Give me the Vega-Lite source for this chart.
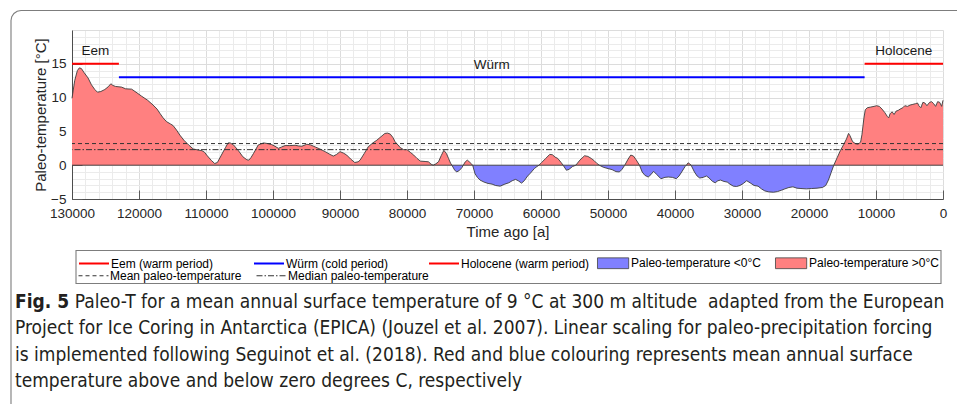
{
  "$schema": "https://vega.github.io/schema/vega-lite/v6.json",
  "width": 871,
  "height": 169,
  "autosize": {"type": "none"},
  "padding": {"left": 72, "top": 30, "right": 14, "bottom": 205},
  "background": "white",
  "config": {
    "view": {"stroke": null},
    "font": "Liberation Sans",
    "axis": {"labelFont": "Liberation Sans", "titleFont": "Liberation Sans"},
    "legend": {"labelFont": "Liberation Sans", "labelFontSize": 12, "labelColor": "#000000", "labelLimit": 400, "padding": 0, "symbolOpacity": 1}
  },
  "title": {
    "text": "Fig. 5",
    "subtitle": [
      "\u200b\u00a0\u00a0\u00a0\u00a0\u00a0\u00a0\u00a0\u00a0\u00a0\u00a0\u00a0Paleo-T for a mean annual surface temperature of 9 °C at 300 m altitude \u00a0adapted from the European",
      "Project for Ice Coring in Antarctica (EPICA) (Jouzel et al. 2007). Linear scaling for paleo-precipitation forcing",
      "is implemented following Seguinot et al. (2018). Red and blue colouring represents mean annual surface",
      "temperature above and below zero degrees C, respectively"
    ],
    "orient": "bottom",
    "anchor": "start",
    "frame": "group",
    "offset": -130,
    "dx": -57,
    "font": "Liberation Sans Narrow, DejaVu Sans Condensed, sans-serif",
    "fontSize": 19,
    "fontWeight": "bold",
    "color": "#231f20",
    "subtitleFont": "Liberation Sans Narrow, DejaVu Sans Condensed, sans-serif",
    "subtitleFontSize": 19,
    "subtitleColor": "#231f20",
    "subtitleLineHeight": 26.3,
    "subtitlePadding": -19
  },
  "datasets": {
    "paleo": [
      {"age": 130000, "temp": 9.9}, {"age": 129600, "temp": 12.5}, {"age": 129200, "temp": 14.0},
      {"age": 128900, "temp": 14.4}, {"age": 128600, "temp": 14.3}, {"age": 128200, "temp": 13.7},
      {"age": 127600, "temp": 12.9}, {"age": 127100, "temp": 11.9}, {"age": 126600, "temp": 11.2},
      {"age": 126200, "temp": 10.8}, {"age": 125700, "temp": 10.9}, {"age": 125100, "temp": 11.2},
      {"age": 124600, "temp": 11.6}, {"age": 124200, "temp": 12.05}, {"age": 123900, "temp": 11.8},
      {"age": 123500, "temp": 11.65}, {"age": 122600, "temp": 11.55}, {"age": 122000, "temp": 11.3},
      {"age": 121100, "temp": 11.25}, {"age": 120300, "temp": 10.7}, {"age": 119600, "temp": 10.2},
      {"age": 118700, "temp": 9.6}, {"age": 117900, "temp": 8.9}, {"age": 117300, "temp": 8.3},
      {"age": 116900, "temp": 7.7}, {"age": 116400, "temp": 7.0}, {"age": 115900, "temp": 6.45},
      {"age": 115300, "temp": 6.1}, {"age": 114900, "temp": 5.85}, {"age": 114400, "temp": 5.2},
      {"age": 113900, "temp": 4.45}, {"age": 113300, "temp": 3.7}, {"age": 112600, "temp": 3.0},
      {"age": 111900, "temp": 2.4}, {"age": 111200, "temp": 2.25}, {"age": 110600, "temp": 2.15},
      {"age": 110200, "temp": 1.9}, {"age": 109900, "temp": 1.5}, {"age": 109200, "temp": 0.7},
      {"age": 108700, "temp": 0.25}, {"age": 108300, "temp": 0.4}, {"age": 107700, "temp": 1.5},
      {"age": 107100, "temp": 2.6}, {"age": 106700, "temp": 3.3}, {"age": 106400, "temp": 3.3},
      {"age": 105900, "temp": 3.0}, {"age": 105200, "temp": 2.2}, {"age": 104500, "temp": 1.25},
      {"age": 103900, "temp": 0.8}, {"age": 103600, "temp": 0.75}, {"age": 103300, "temp": 1.1},
      {"age": 102900, "temp": 1.75}, {"age": 102200, "temp": 3.0}, {"age": 101400, "temp": 3.3},
      {"age": 100800, "temp": 3.2}, {"age": 100200, "temp": 3.05}, {"age": 99700, "temp": 2.8},
      {"age": 99200, "temp": 2.5}, {"age": 98700, "temp": 2.7}, {"age": 98200, "temp": 2.9},
      {"age": 97500, "temp": 2.9}, {"age": 96700, "temp": 2.95}, {"age": 96200, "temp": 2.85},
      {"age": 95700, "temp": 2.8}, {"age": 94950, "temp": 3.1}, {"age": 94400, "temp": 3.0},
      {"age": 93700, "temp": 2.7}, {"age": 93000, "temp": 2.4}, {"age": 92200, "temp": 2.0},
      {"age": 91500, "temp": 1.6}, {"age": 91000, "temp": 1.35}, {"age": 90500, "temp": 1.6},
      {"age": 90000, "temp": 2.0}, {"age": 89500, "temp": 1.8}, {"age": 89000, "temp": 1.5},
      {"age": 88400, "temp": 0.9}, {"age": 87800, "temp": 0.4}, {"age": 87300, "temp": 0.5},
      {"age": 87000, "temp": 0.75}, {"age": 86400, "temp": 1.7}, {"age": 85800, "temp": 2.7},
      {"age": 85100, "temp": 3.3}, {"age": 84500, "temp": 3.7}, {"age": 83900, "temp": 4.2},
      {"age": 83300, "temp": 4.7}, {"age": 82900, "temp": 4.75}, {"age": 82500, "temp": 4.6},
      {"age": 82100, "temp": 4.1}, {"age": 81800, "temp": 3.5}, {"age": 81000, "temp": 2.6},
      {"age": 80500, "temp": 2.3}, {"age": 80000, "temp": 2.3}, {"age": 79500, "temp": 1.9},
      {"age": 79000, "temp": 1.5}, {"age": 78500, "temp": 1.0}, {"age": 78000, "temp": 0.6},
      {"age": 77300, "temp": 0.55}, {"age": 76800, "temp": 0.5}, {"age": 76400, "temp": 0.15},
      {"age": 76100, "temp": 0.0}, {"age": 75700, "temp": 0.2}, {"age": 75300, "temp": 0.5},
      {"age": 74900, "temp": 1.4}, {"age": 74500, "temp": 2.2}, {"age": 74100, "temp": 1.7},
      {"age": 73800, "temp": 1.0}, {"age": 73500, "temp": 0.3}, {"age": 73300, "temp": 0.0},
      {"age": 72900, "temp": -0.7}, {"age": 72600, "temp": -1.0}, {"age": 72200, "temp": -0.8},
      {"age": 71800, "temp": -0.35}, {"age": 71600, "temp": 0.0}, {"age": 71300, "temp": 0.5},
      {"age": 71000, "temp": 0.75}, {"age": 70700, "temp": 0.5}, {"age": 70340, "temp": 0.15},
      {"age": 70200, "temp": 0.0}, {"age": 69850, "temp": -1.25}, {"age": 69500, "temp": -1.8},
      {"age": 69100, "temp": -2.2}, {"age": 68500, "temp": -2.5}, {"age": 67900, "temp": -2.7},
      {"age": 67300, "temp": -2.8}, {"age": 66800, "temp": -3.0}, {"age": 66100, "temp": -3.1},
      {"age": 65400, "temp": -2.8}, {"age": 64800, "temp": -2.6}, {"age": 64300, "temp": -2.3},
      {"age": 63800, "temp": -2.1}, {"age": 63400, "temp": -2.3}, {"age": 62900, "temp": -2.65},
      {"age": 62500, "temp": -2.3}, {"age": 62000, "temp": -1.6}, {"age": 61600, "temp": -1.2},
      {"age": 61000, "temp": -0.5}, {"age": 60600, "temp": -0.2}, {"age": 60300, "temp": 0.0},
      {"age": 59900, "temp": 0.4}, {"age": 59300, "temp": 1.0}, {"age": 58700, "temp": 1.6},
      {"age": 58300, "temp": 1.55}, {"age": 57900, "temp": 1.2}, {"age": 57500, "temp": 1.0},
      {"age": 57000, "temp": 0.4}, {"age": 56700, "temp": 0.0}, {"age": 56200, "temp": -0.75},
      {"age": 55800, "temp": -0.6}, {"age": 55300, "temp": -0.2}, {"age": 54800, "temp": 0.0},
      {"age": 54200, "temp": 0.75}, {"age": 53500, "temp": 1.4}, {"age": 53000, "temp": 1.3},
      {"age": 52500, "temp": 1.0}, {"age": 52100, "temp": 0.7}, {"age": 51700, "temp": 0.3},
      {"age": 51300, "temp": 0.0}, {"age": 50700, "temp": -0.3}, {"age": 50000, "temp": -0.5},
      {"age": 49400, "temp": -0.65}, {"age": 48800, "temp": -0.95}, {"age": 48300, "temp": -1.0},
      {"age": 47900, "temp": -0.6}, {"age": 47500, "temp": 0.0}, {"age": 47000, "temp": 0.9},
      {"age": 46600, "temp": 1.5}, {"age": 46200, "temp": 1.35}, {"age": 45800, "temp": 0.8},
      {"age": 45300, "temp": 0.0}, {"age": 44900, "temp": -1.0}, {"age": 44500, "temp": -1.5},
      {"age": 44000, "temp": -1.75}, {"age": 43600, "temp": -1.4}, {"age": 43200, "temp": -0.9},
      {"age": 42700, "temp": -1.4}, {"age": 42100, "temp": -2.0}, {"age": 41500, "temp": -1.8},
      {"age": 41000, "temp": -1.75}, {"age": 40400, "temp": -1.8}, {"age": 39800, "temp": -2.0},
      {"age": 39400, "temp": -1.6}, {"age": 39000, "temp": -1.0}, {"age": 38500, "temp": -0.2},
      {"age": 38300, "temp": 0.0}, {"age": 38050, "temp": 0.35}, {"age": 37800, "temp": 0.2},
      {"age": 37600, "temp": 0.0}, {"age": 37100, "temp": -1.0}, {"age": 36700, "temp": -1.6},
      {"age": 36300, "temp": -1.9}, {"age": 35800, "temp": -1.8}, {"age": 35300, "temp": -1.6},
      {"age": 34900, "temp": -1.9}, {"age": 34400, "temp": -2.4}, {"age": 34000, "temp": -2.6},
      {"age": 33600, "temp": -2.3}, {"age": 33200, "temp": -2.2}, {"age": 32700, "temp": -2.4},
      {"age": 32200, "temp": -2.5}, {"age": 31800, "temp": -2.8}, {"age": 31300, "temp": -3.1},
      {"age": 30800, "temp": -3.15}, {"age": 30300, "temp": -3.0}, {"age": 29800, "temp": -2.7},
      {"age": 29300, "temp": -2.3}, {"age": 28800, "temp": -2.6}, {"age": 28200, "temp": -3.0},
      {"age": 27600, "temp": -3.1}, {"age": 27100, "temp": -3.5}, {"age": 26600, "temp": -3.8},
      {"age": 26000, "temp": -3.95}, {"age": 25300, "temp": -4.0}, {"age": 24700, "temp": -3.9},
      {"age": 24100, "temp": -3.7}, {"age": 23600, "temp": -3.5}, {"age": 23000, "temp": -3.3},
      {"age": 22400, "temp": -3.2}, {"age": 21800, "temp": -3.4}, {"age": 21200, "temp": -3.45},
      {"age": 20400, "temp": -3.5}, {"age": 19600, "temp": -3.45}, {"age": 18800, "temp": -3.4},
      {"age": 18000, "temp": -3.3}, {"age": 17500, "temp": -3.0}, {"age": 17100, "temp": -2.2},
      {"age": 16700, "temp": -1.1}, {"age": 16300, "temp": 0.0}, {"age": 15800, "temp": 1.1},
      {"age": 15300, "temp": 2.2}, {"age": 14800, "temp": 3.1}, {"age": 14400, "temp": 3.9},
      {"age": 14100, "temp": 4.7}, {"age": 13900, "temp": 4.4}, {"age": 13500, "temp": 3.5},
      {"age": 13100, "temp": 3.2}, {"age": 12700, "temp": 3.1}, {"age": 12300, "temp": 3.4},
      {"age": 12100, "temp": 4.5}, {"age": 11800, "temp": 7.0}, {"age": 11600, "temp": 8.2},
      {"age": 11300, "temp": 8.5}, {"age": 10800, "temp": 8.6}, {"age": 10300, "temp": 8.7},
      {"age": 9900, "temp": 8.8}, {"age": 9500, "temp": 8.7}, {"age": 9100, "temp": 8.3},
      {"age": 8700, "temp": 7.8}, {"age": 8300, "temp": 7.2}, {"age": 8100, "temp": 7.0},
      {"age": 7900, "temp": 7.6}, {"age": 7600, "temp": 7.9}, {"age": 7300, "temp": 7.5},
      {"age": 7000, "temp": 8.0}, {"age": 6700, "temp": 8.1}, {"age": 6400, "temp": 8.3},
      {"age": 6000, "temp": 8.5}, {"age": 5700, "temp": 8.8}, {"age": 5300, "temp": 8.7},
      {"age": 4900, "temp": 8.9}, {"age": 4500, "temp": 9.0}, {"age": 4100, "temp": 9.1},
      {"age": 3800, "temp": 9.2}, {"age": 3600, "temp": 8.8}, {"age": 3300, "temp": 8.5},
      {"age": 3000, "temp": 9.3}, {"age": 2700, "temp": 9.2}, {"age": 2400, "temp": 8.8},
      {"age": 2000, "temp": 9.3}, {"age": 1700, "temp": 9.4}, {"age": 1400, "temp": 9.1},
      {"age": 1100, "temp": 8.7}, {"age": 800, "temp": 9.4}, {"age": 500, "temp": 9.3},
      {"age": 200, "temp": 8.7}, {"age": 0, "temp": 9.6}
    ],
    "periods": [
      {"name": "Eem (warm period)", "label": "Eem", "from": 130000, "to": 123000, "level": 15},
      {"name": "Würm (cold period)", "label": "Würm", "from": 123000, "to": 11700, "level": 13},
      {"name": "Holocene (warm period)", "label": "Holocene", "from": 11700, "to": 0, "level": 15}
    ],
    "stats": [
      {"name": "Mean paleo-temperature", "value": 3.2},
      {"name": "Median paleo-temperature", "value": 2.3}
    ]
  },
  "layer": [
    {
      "data": {"name": "paleo"},
      "transform": [{"filter": "datum.temp >= 0"}],
      "mark": {"type": "area", "opacity": 1},
      "encoding": {
        "x": {
          "field": "age", "type": "quantitative",
          "scale": {"domain": [0, 130000], "reverse": true, "nice": false, "zero": false},
          "axis": {
            "title": "Time ago [a]", "tickCount": 65, "format": "d", "grid": true,
            "labelExpr": "datum.value % 10000 === 0 ? datum.label : ''",
            "labelOverlap": false, "labelFlush": false, "labelFontSize": 13.5, "labelColor": "#262626",
            "labelPadding": 16, "tickSize": -9,
            "tickColor": {"condition": {"test": "datum.value % 10000 === 0", "value": "#5a5a5a"}, "value": "transparent"},
            "gridColor": {"condition": {"test": "datum.value % 10000 === 0", "value": "#dcdcdc"}, "value": "#ebebeb"},
            "domainColor": "#4d4d4d", "titleFontSize": 15, "titleFontWeight": "normal", "titleColor": "#262626", "titlePadding": 5
          }
        },
        "y": {
          "field": "temp", "type": "quantitative",
          "scale": {"domain": [-5, 20], "nice": false, "zero": false},
          "axis": {
            "title": "Paleo-temperature [°C]", "tickCount": 25, "grid": true,
            "labelExpr": "datum.value % 5 === 0 && datum.value < 20 ? datum.label : ''",
            "labelOverlap": false, "labelFlush": false, "labelFontSize": 13.5, "labelColor": "#262626",
            "labelPadding": 16, "tickSize": -10,
            "tickColor": {"condition": {"test": "datum.value % 5 === 0 && datum.value < 20", "value": "#5a5a5a"}, "value": "transparent"},
            "gridColor": {"condition": {"test": "datum.value % 5 === 0", "value": "#dcdcdc"}, "value": "#ebebeb"},
            "domainColor": "#4d4d4d", "titleFontSize": 15, "titleFontWeight": "normal", "titleColor": "#262626", "titlePadding": 2
          }
        },
        "y2": {"datum": 0},
        "fill": {
          "datum": "Paleo-temperature >0°C", "type": "nominal",
          "scale": {"domain": ["Paleo-temperature <0°C", "Paleo-temperature >0°C"], "range": ["#8080ff", "#ff8080"]},
          "legend": {
            "title": null, "orient": "none", "legendX": 525.6, "legendY": 226.5,
            "direction": "horizontal", "columns": 2, "gridAlign": "each", "columnPadding": 12,
            "symbolType": "M-2.6,-0.9H2.6V0.9H-2.6Z", "symbolSize": 144, "symbolOffset": 9,
            "symbolStrokeColor": "#404040", "symbolStrokeWidth": 0.8, "labelOffset": 11.5
          }
        }
      }
    },
    {
      "data": {"name": "paleo"},
      "transform": [{"filter": "datum.temp <= 0"}],
      "mark": {"type": "area", "opacity": 1},
      "encoding": {
        "x": {"field": "age", "type": "quantitative"},
        "y": {"field": "temp", "type": "quantitative"},
        "y2": {"datum": 0},
        "fill": {"datum": "Paleo-temperature <0°C", "type": "nominal"}
      }
    },
    {
      "data": {"values": [{}]},
      "mark": {"type": "rule", "color": "#3c3c3c", "strokeWidth": 0.9},
      "encoding": {
        "y": {"datum": 0, "type": "quantitative"},
        "opacity": {
          "datum": "legend box", "type": "nominal",
          "scale": {"domain": ["legend box"], "range": [1]},
          "legend": {
            "title": null, "orient": "none", "legendX": 429.5, "legendY": 230,
            "symbolType": "M-72.083,-2.75H72.083V2.75H-72.083ZM-82.917,25.583V-41.083L-82.79,-41.722L-82.428,-42.262L-81.888,-42.623L-81.25,-42.75H76.583",
            "symbolSize": 144, "symbolOffset": 0,
            "symbolStrokeColor": "#7d7d7d", "symbolFillColor": "transparent", "symbolStrokeWidth": 1.1,
            "labelExpr": "''", "labelOffset": 0
          }
        }
      }
    },
    {
      "data": {"name": "paleo"},
      "mark": {"type": "line", "color": "#3c3c3c", "strokeWidth": 0.9},
      "encoding": {
        "x": {"field": "age", "type": "quantitative"},
        "y": {"field": "temp", "type": "quantitative"}
      }
    },
    {
      "data": {"name": "stats"},
      "mark": {"type": "rule", "strokeWidth": 1, "color": "#333333"},
      "encoding": {
        "y": {"field": "value", "type": "quantitative"},
        "strokeDash": {
          "field": "name", "type": "nominal",
          "scale": {"domain": ["Mean paleo-temperature", "Median paleo-temperature"], "range": [[4, 3], [6, 2, 1.5, 2]]},
          "legend": {
            "title": null, "orient": "none", "legendX": 6, "legendY": 239,
            "direction": "horizontal", "columns": 2, "gridAlign": "each", "columnPadding": 12,
            "symbolType": "M-2.5,0H2.5", "symbolSize": 144, "symbolOffset": 9,
            "symbolStrokeColor": "#333333", "symbolStrokeWidth": 1, "labelOffset": 10
          }
        }
      }
    },
    {
      "data": {"name": "periods"},
      "mark": {"type": "rule", "strokeWidth": 2},
      "encoding": {
        "x": {"field": "from", "type": "quantitative"},
        "x2": {"field": "to"},
        "y": {"field": "level", "type": "quantitative"},
        "stroke": {
          "field": "name", "type": "nominal",
          "scale": {"domain": ["Eem (warm period)", "Würm (cold period)", "Holocene (warm period)"], "range": ["#ff0000", "#0000ff", "#ff0000"]},
          "legend": {
            "title": null, "orient": "none", "legendX": 6, "legendY": 226.5,
            "direction": "horizontal", "columns": 3, "gridAlign": "all", "columnPadding": 10,
            "symbolType": "M-2.5,0H2.5", "symbolSize": 144, "symbolOffset": 9,
            "symbolStrokeWidth": 2, "labelOffset": 10
          }
        }
      }
    },
    {
      "data": {"name": "periods"},
      "transform": [{"calculate": "(datum.from + datum.to) / 2", "as": "mid"}],
      "mark": {"type": "text", "font": "Liberation Sans", "fontSize": 13.5, "color": "#1a1a1a", "baseline": "middle", "dy": -12.5},
      "encoding": {
        "x": {"field": "mid", "type": "quantitative"},
        "y": {"field": "level", "type": "quantitative"},
        "text": {"field": "label"}
      }
    }
  ]
}
